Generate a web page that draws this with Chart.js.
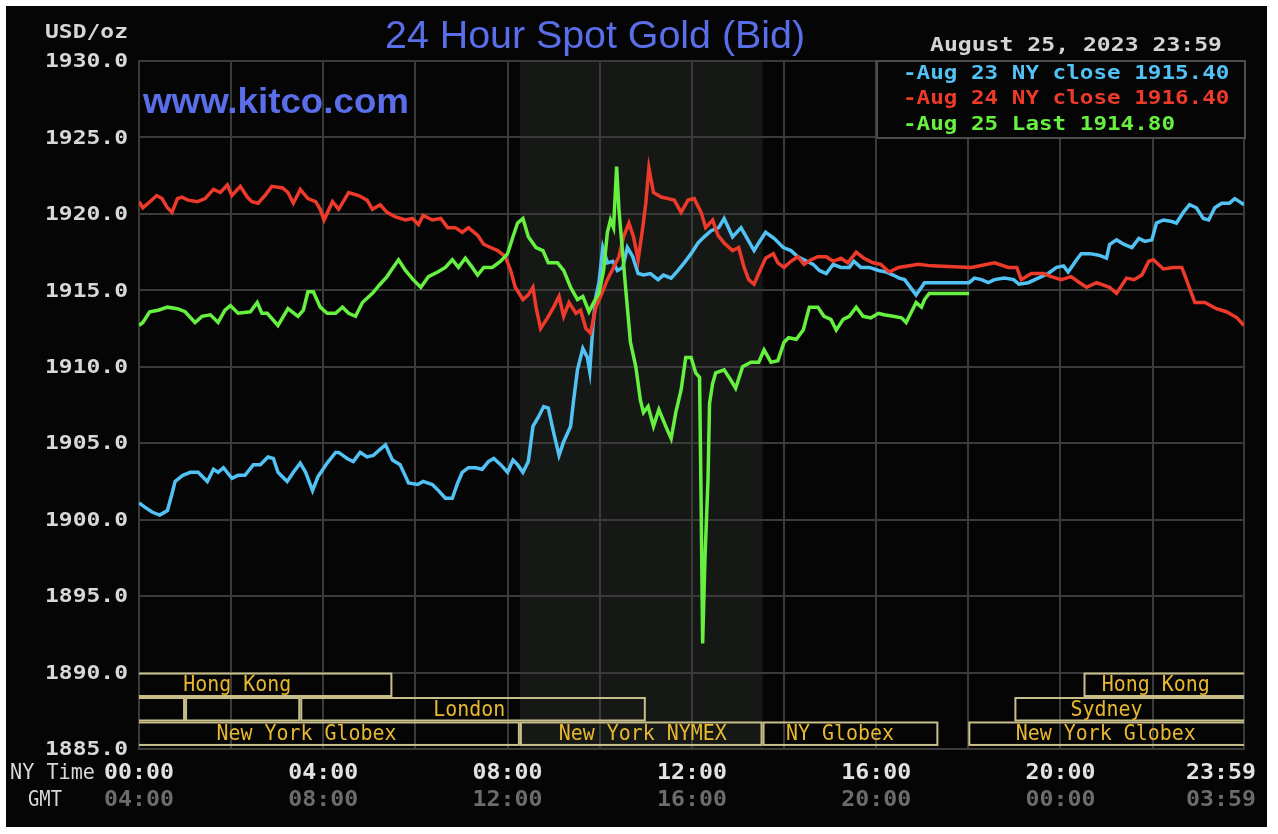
<!DOCTYPE html>
<html>
<head>
<meta charset="utf-8">
<title>24 Hour Spot Gold (Bid)</title>
<script src="https://cdn.jsdelivr.net/npm/chart.js@4.4.0/dist/chart.umd.min.js"></script>
<style>
  html, body { margin: 0; padding: 0; background: #ffffff; }
  canvas { display: block; }
</style>
</head>
<body>
<canvas id="goldChart" width="1278" height="834"></canvas>
<script>
// times are minutes after 00:00 New York time, values in USD/oz

const blueTimes = [0,8,17,27,37,43,47,57,67,77,89,97,103,110,121,129,138,149,158,168,175,181,193,201,210,217,226,233,245,256,260,271,279,288,297,305,314,321,330,340,351,363,370,382,390,399,408,415,421,429,438,447,455,462,471,480,487,493,500,507,513,520,527,533,540,547,553,562,566,571,578,584,587,591,595,599,604,610,617,623,630,636,643,650,657,666,676,683,693,702,710,719,728,736,745,755,762,773,784,793,801,807,816,827,839,849,858,866,878,886,895,904,914,925,931,940,951,963,973,982,990,997,1012,1019,1023,1081,1088,1097,1106,1114,1127,1139,1146,1158,1171,1184,1195,1204,1210,1221,1227,1238,1250,1260,1264,1273,1283,1293,1302,1310,1319,1325,1334,1345,1351,1360,1368,1377,1386,1393,1401,1410,1420,1427,1433,1439];
const blueValues = [1901.1,1900.8,1900.5,1900.3,1900.6,1901.7,1902.5,1902.9,1903.1,1903.1,1902.5,1903.3,1903.1,1903.4,1902.7,1902.9,1902.9,1903.6,1903.6,1904.1,1904.0,1903.1,1902.5,1903.1,1903.7,1903.1,1901.9,1902.8,1903.7,1904.4,1904.4,1904.0,1903.8,1904.4,1904.1,1904.2,1904.6,1904.9,1903.9,1903.6,1902.4,1902.3,1902.5,1902.3,1901.9,1901.4,1901.4,1902.4,1903.1,1903.4,1903.4,1903.3,1903.8,1904.0,1903.6,1903.1,1903.9,1903.6,1903.1,1903.8,1906.1,1906.7,1907.4,1907.3,1905.7,1904.2,1905.1,1906.1,1907.8,1909.8,1911.2,1910.6,1909.7,1912.6,1914.6,1915.5,1917.8,1916.8,1916.9,1916.3,1916.5,1917.8,1917.2,1916.1,1916.0,1916.1,1915.7,1916.0,1915.8,1916.3,1916.8,1917.4,1918.1,1918.5,1918.9,1919.1,1919.7,1918.5,1919.1,1918.3,1917.6,1918.1,1918.8,1918.4,1917.8,1917.6,1917.2,1917.0,1916.7,1916.3,1916.1,1916.7,1916.5,1916.5,1916.9,1916.5,1916.5,1916.3,1916.2,1916.0,1915.8,1915.7,1914.7,1915.2,1915.5,1915.5,1915.8,1915.7,1915.5,1915.7,1915.8,1915.7,1915.4,1915.5,1915.8,1916.1,1916.5,1916.6,1916.2,1917.0,1917.4,1917.4,1917.3,1917.1,1918.0,1918.3,1918.0,1917.8,1918.4,1918.2,1918.3,1919.4,1919.6,1919.5,1919.4,1920.1,1920.6,1920.4,1919.7,1919.6,1920.4,1920.7,1920.7,1921.0,1920.8,1920.6];

const redTimes = [0,5,12,23,30,37,43,50,56,64,76,86,97,106,115,121,132,141,147,155,164,173,187,194,201,210,220,230,236,241,252,260,273,286,297,304,314,323,334,347,356,364,370,382,393,402,412,421,429,441,449,458,467,477,484,490,500,507,513,517,523,532,540,547,553,560,569,575,582,588,595,601,610,618,625,631,638,644,650,656,660,664,670,680,689,697,706,715,723,732,738,747,754,762,773,781,788,794,801,807,816,826,832,840,849,858,866,875,884,895,904,914,923,934,944,956,966,977,989,1015,1032,1084,1114,1132,1143,1149,1162,1178,1188,1201,1214,1225,1234,1247,1264,1273,1286,1296,1306,1315,1321,1334,1347,1358,1364,1375,1388,1403,1416,1430,1439];
const redValues = [1920.8,1920.4,1920.7,1921.2,1921.0,1920.4,1920.1,1921.0,1921.1,1920.9,1920.8,1921.0,1921.6,1921.4,1921.9,1921.2,1921.8,1921.1,1920.8,1920.7,1921.2,1921.8,1921.7,1921.4,1920.7,1921.6,1921.0,1920.8,1920.3,1919.6,1920.8,1920.3,1921.4,1921.2,1920.9,1920.3,1920.6,1920.1,1919.8,1919.6,1919.7,1919.3,1919.9,1919.6,1919.7,1919.1,1919.1,1918.8,1919.1,1918.6,1918.0,1917.8,1917.6,1917.2,1916.3,1915.2,1914.4,1914.7,1915.2,1913.9,1912.5,1913.2,1913.9,1914.6,1913.3,1914.2,1913.5,1913.7,1912.5,1912.2,1913.9,1914.6,1915.7,1916.5,1917.2,1918.5,1919.4,1918.5,1917.0,1919.1,1920.7,1923.0,1921.4,1921.1,1921.0,1920.9,1920.1,1920.9,1921.0,1920.1,1919.1,1919.6,1918.6,1918.1,1917.6,1917.8,1916.5,1915.7,1915.4,1916.1,1917.1,1917.4,1916.8,1916.5,1916.9,1917.2,1916.7,1917.0,1917.2,1917.2,1916.9,1917.1,1916.8,1917.5,1917.1,1916.8,1916.7,1916.2,1916.5,1916.7,1916.6,1916.5,1916.8,1916.5,1916.5,1915.7,1916.1,1916.1,1915.9,1915.7,1915.9,1915.5,1915.2,1915.5,1915.2,1914.8,1915.8,1915.7,1916.0,1916.9,1917.0,1916.4,1916.5,1916.5,1915.7,1914.2,1914.2,1913.8,1913.6,1913.2,1912.7];

const greenTimes = [0,5,14,25,37,50,60,73,82,93,103,112,119,129,145,154,160,167,181,194,207,214,220,227,236,245,256,265,273,282,291,304,314,323,331,338,347,357,367,377,389,399,408,416,425,434,441,449,460,471,480,487,493,500,507,517,526,533,545,553,562,571,578,586,592,599,605,610,614,618,622,625,627,634,640,647,653,657,663,670,677,686,693,699,706,712,719,725,730,732,734,737,741,743,747,751,762,771,777,786,797,807,814,823,832,840,846,856,865,873,884,892,901,908,917,925,934,943,953,963,970,982,993,999,1006,1012,1019,1023,1029,1081];
const greenValues = [1912.7,1912.9,1913.6,1913.7,1913.9,1913.8,1913.6,1912.9,1913.3,1913.4,1912.9,1913.7,1914.0,1913.5,1913.6,1914.2,1913.5,1913.5,1912.7,1913.8,1913.3,1913.7,1914.9,1914.9,1913.9,1913.5,1913.5,1913.9,1913.5,1913.3,1914.2,1914.8,1915.4,1915.9,1916.5,1917.0,1916.3,1915.7,1915.2,1915.9,1916.2,1916.5,1917.0,1916.5,1917.1,1916.5,1916.0,1916.5,1916.5,1916.9,1917.4,1918.5,1919.4,1919.7,1918.5,1917.8,1917.6,1916.8,1916.8,1916.3,1915.2,1914.4,1914.6,1913.6,1914.2,1914.8,1916.3,1918.8,1919.6,1919.1,1923.1,1920.3,1919.1,1915.0,1911.6,1910.0,1907.8,1907.0,1907.4,1906.1,1907.2,1906.1,1905.3,1907.0,1908.5,1910.6,1910.6,1909.6,1909.3,1901.3,1891.9,1897.4,1902.6,1907.6,1908.9,1909.6,1909.8,1909.1,1908.6,1910.0,1910.3,1910.3,1911.1,1910.3,1910.4,1911.6,1911.9,1911.8,1912.4,1913.9,1913.9,1913.3,1913.1,1912.4,1913.1,1913.3,1913.9,1913.3,1913.2,1913.5,1913.4,1913.3,1913.2,1912.9,1913.6,1914.2,1913.9,1914.4,1914.8,1914.8];

const seriesNames = ["Aug 23 NY close 1915.40", "Aug 24 NY close 1916.40", "Aug 25 Last 1914.80"];
const seriesColors = ["#52c2f5", "#ee3a2a", "#66f040"];

const gridTimes = [0,120,240,360,480,600,720,840,960,1080,1200,1320,1439];
const labelTimes = [0,240,480,720,960,1200,1439];
const nyLabels = ["00:00","04:00","08:00","12:00","16:00","20:00","23:59"];
const gmtLabels = ["04:00","08:00","12:00","16:00","20:00","00:00","03:59"];

// NYMEX floor session (shaded)
const nymexOpen = 496, nymexClose = 812;

// market session bars: row 0 top, start/end in minutes, label centre in minutes
const sessions = [
  { row: 0, start: -60, end: 330, label: "Hong Kong", at: 128 },
  { row: 0, start: 1230, end: 1500, label: "Hong Kong", at: 1324 },
  { row: 1, start: -60, end: 60, label: "", at: 0 },
  { row: 1, start: 60, end: 210, label: "", at: 0 },
  { row: 1, start: 210, end: 660, label: "London", at: 430 },
  { row: 1, start: 1140, end: 1500, label: "Sydney", at: 1260 },
  { row: 2, start: -60, end: 496, label: "New York Globex", at: 218 },
  { row: 2, start: 496, end: 812, label: "New York NYMEX", at: 656 },
  { row: 2, start: 812, end: 1041, label: "NY Globex", at: 913 },
  { row: 2, start: 1080, end: 1500, label: "New York Globex", at: 1259 }
];

const gridColor = "#3a3a3a";
const mono = '"DejaVu Sans Mono", monospace';

function toPoints(times, values) {
  return times.map((t, i) => ({ x: t, y: values[i] }));
}

// draw text stretched horizontally to a given width
function drawStretched(ctx, str, x, y, font, width, align, color) {
  ctx.save();
  ctx.font = font;
  ctx.fillStyle = color;
  ctx.textBaseline = "middle";
  ctx.textAlign = align;
  const natural = ctx.measureText(str).width;
  ctx.translate(x, y);
  ctx.scale(width / natural, 1);
  ctx.fillText(str, 0, 0);
  ctx.restore();
}

const backdrop = {
  id: "backdrop",
  beforeDraw(chart) {
    const { ctx, chartArea, scales } = chart;
    ctx.save();
    ctx.fillStyle = "#ffffff";
    ctx.fillRect(0, 0, chart.width, chart.height);
    ctx.fillStyle = "#050506";
    ctx.fillRect(6, 6, 1261, 821);
    const x1 = scales.x.getPixelForValue(nymexOpen);
    const x2 = scales.x.getPixelForValue(nymexClose);
    ctx.fillStyle = "#161816";
    ctx.fillRect(x1, chartArea.top, x2 - x1, chartArea.bottom - chartArea.top);
    ctx.restore();
  },
  beforeDatasetsDraw(chart) {
    const { ctx, chartArea, scales } = chart;
    ctx.save();
    ctx.beginPath();
    ctx.rect(chartArea.left, chartArea.top, chartArea.right - chartArea.left, chartArea.bottom - chartArea.top);
    ctx.clip();
    ctx.strokeStyle = "#c9bf8a";
    ctx.lineWidth = 2;
    sessions.forEach(s => {
      const top = scales.y.getPixelForValue(1890 - s.row * 1.6);
      const bot = scales.y.getPixelForValue(1890 - (s.row + 1) * 1.6);
      const x1 = scales.x.getPixelForValue(s.start);
      const x2 = scales.x.getPixelForValue(s.end);
      ctx.strokeRect(x1 + 1, top + 1, x2 - x1 - 2, bot - top - 2);
    });
    sessions.forEach(s => {
      if (!s.label) return;
      const top = scales.y.getPixelForValue(1890 - s.row * 1.6);
      const bot = scales.y.getPixelForValue(1890 - (s.row + 1) * 1.6);
      drawStretched(ctx, s.label, scales.x.getPixelForValue(s.at), (top + bot) / 2 + 1,
        "21px " + mono, s.label.length * 12, "center", "#e8b830");
    });
    ctx.restore();
  },
  afterDraw(chart) {
    const { ctx, chartArea, scales } = chart;
    // y tick labels
    scales.y.ticks.forEach(t => {
      const y = scales.y.getPixelForValue(t.value);
      drawStretched(ctx, t.value.toFixed(1), chartArea.left - 11, y + 1, "bold 20px " + mono, 83, "right", "#d8d8d8");
    });
    drawStretched(ctx, "USD/oz", chartArea.left - 11, 33, "bold 20px " + mono, 83, "right", "#d8d8d8");

    // x tick labels
    labelTimes.forEach((t, i) => {
      let x = scales.x.getPixelForValue(t);
      let align = "center";
      if (i === labelTimes.length - 1) { x = chartArea.right + 12; align = "right"; }
      drawStretched(ctx, nyLabels[i], x, 774, "bold 21px " + mono, 70, align, "#e2e2e2");
      drawStretched(ctx, gmtLabels[i], x, 801, "bold 21px " + mono, 70, align, "#6c6c6c");
    });
    drawStretched(ctx, "NY Time", 10, 774, "21px " + mono, 85, "left", "#d8d8d8");
    drawStretched(ctx, "GMT", 28, 801, "21px " + mono, 34, "left", "#d8d8d8");

    // titles
    drawStretched(ctx, "24 Hour Spot Gold (Bid)", 595, 38, '38px "Liberation Sans", Arial, sans-serif', 420, "center", "#5a6ee9");
    drawStretched(ctx, "www.kitco.com", 143, 103, 'bold 35px "Liberation Sans", Arial, sans-serif', 266, "left", "#5a6ee9");
    drawStretched(ctx, "August 25, 2023 23:59", 1222, 46, "bold 19px " + mono, 292, "right", "#d4d4d4");

    // legend box
    ctx.save();
    ctx.fillStyle = "#050506";
    ctx.strokeStyle = "#4c4c4c";
    ctx.lineWidth = 2;
    ctx.fillRect(877, chartArea.top, 368, 77);
    ctx.strokeRect(877, chartArea.top, 368, 77);
    ctx.restore();
    seriesNames.forEach((name, i) => {
      const str = "-" + name;
      drawStretched(ctx, str, 903, 74 + i * 25.5, "bold 19px " + mono, str.length * 13.6, "left", seriesColors[i]);
    });
  }
};

const lineStyle = { borderWidth: 3.5, pointRadius: 0, tension: 0, fill: false };

const goldChart = new Chart(document.getElementById("goldChart"), {
  type: "line",
  data: {
    datasets: [
      { label: seriesNames[2], data: toPoints(greenTimes, greenValues), borderColor: seriesColors[2], ...lineStyle },
      { label: seriesNames[1], data: toPoints(redTimes, redValues), borderColor: seriesColors[1], ...lineStyle },
      { label: seriesNames[0], data: toPoints(blueTimes, blueValues), borderColor: seriesColors[0], ...lineStyle }
    ]
  },
  plugins: [backdrop],
  options: {
    responsive: false,
    animation: false,
    devicePixelRatio: 1,
    layout: { padding: { left: 139, right: 34, top: 61, bottom: 85 } },
    plugins: {
      legend: { display: false },
      tooltip: { enabled: false }
    },
    scales: {
      x: {
        type: "linear",
        min: 0,
        max: 1439,
        afterBuildTicks: axis => { axis.ticks = gridTimes.map(v => ({ value: v })); },
        ticks: { display: false },
        grid: { color: gridColor, lineWidth: 2, drawTicks: false },
        border: { color: gridColor, width: 2 }
      },
      y: {
        min: 1885,
        max: 1930,
        ticks: { display: false, stepSize: 5 },
        grid: { color: gridColor, lineWidth: 2, drawTicks: false },
        border: { color: gridColor, width: 2 }
      }
    }
  }
});
</script>
</body>
</html>
